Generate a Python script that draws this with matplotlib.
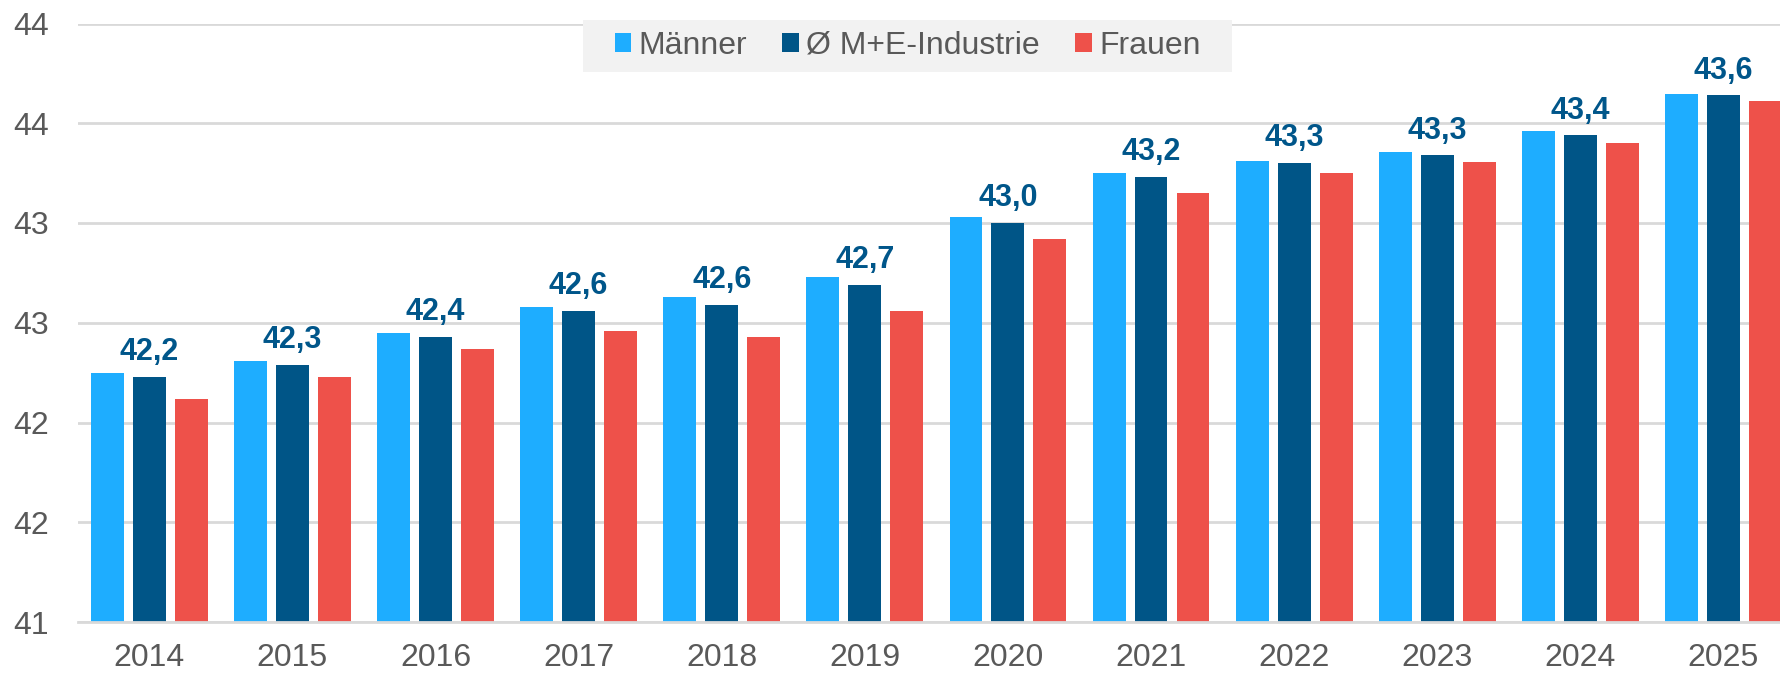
import numpy as np
import matplotlib
matplotlib.use("Agg")
import matplotlib.pyplot as plt
from matplotlib.patches import Patch, Rectangle

years = ["2014", "2015", "2016", "2017", "2018", "2019",
         "2020", "2021", "2022", "2023", "2024", "2025"]
maenner = [42.25, 42.31, 42.45, 42.58, 42.63, 42.73,
           43.03, 43.25, 43.31, 43.355, 43.46, 43.645]
me_industrie = [42.23, 42.29, 42.43, 42.56, 42.59, 42.69,
                43.00, 43.23, 43.30, 43.34, 43.44, 43.64]
frauen = [42.12, 42.23, 42.37, 42.46, 42.43, 42.56,
          42.92, 43.15, 43.25, 43.305, 43.40, 43.61]
series_names = ["Männer", "Ø M+E-Industrie", "Frauen"]
y_ticks = [41.0, 41.5, 42.0, 42.5, 43.0, 43.5, 44.0]
y_labels = ["41", "42", "42", "43", "43", "44", "44"]

colors = ["#1EADFF", "#005587", "#EE514A"]
grey_text = "#595959"
grid_col = "#D9D9D9"

plt.rcParams['font.family'] = ['Liberation Sans', 'DejaVu Sans']

W, H = 1781, 673
fig = plt.figure(figsize=(W / 100, H / 100), dpi=100)
left, right = 77.75, 1795
bottom, top = 622, 23.5
ax = fig.add_axes([left / W, (H - bottom) / H, (right - left) / W, (bottom - top) / H])

x = np.arange(len(years))
width = 0.23
offset = 0.293
for i, vals in enumerate([maenner, me_industrie, frauen]):
    ax.bar(x + (i - 1) * offset, np.array(vals) - 41.0, width, bottom=41.0,
           color=colors[i], zorder=3)

# value labels above the M+E bars
for xi, v in zip(x, me_industrie):
    ax.annotate(f"{v:.1f}".replace(".", ","), (xi, v), xytext=(0, 12),
                textcoords="offset points", ha="center", va="baseline",
                fontsize=22, fontweight="bold", color="#00568A")

ax.set_xlim(-0.5, len(years) - 0.5)
ax.set_ylim(41.0, 44.0)
ax.set_yticks(y_ticks)
ax.set_yticklabels(y_labels)
ax.set_xticks(x)
ax.set_xticklabels(years)
ax.tick_params(axis="both", length=0, labelsize=23, labelcolor=grey_text)
ax.tick_params(axis="y", pad=21)
ax.tick_params(axis="x", pad=15)
ax.yaxis.grid(True, color=grid_col, linewidth=2, zorder=0)
for s in ["top", "right", "left"]:
    ax.spines[s].set_visible(False)
ax.spines["bottom"].set_color(grid_col)
ax.spines["bottom"].set_linewidth(2)
ax.spines["bottom"].set_zorder(4)

# legend with a grey background box
fig.patches.append(Rectangle((583 / W, 1 - 72 / H), (1232 - 583) / W, 52 / H,
                             transform=fig.transFigure, facecolor="#F2F2F2",
                             edgecolor="none", zorder=5))
handles = [Patch(facecolor=c, edgecolor="none") for c in colors]
leg = fig.legend(handles, series_names, ncol=3, loc="center",
                 bbox_to_anchor=(907.5 / W, 1 - 46 / H),
                 frameon=False, fontsize=23,
                 handlelength=0.53, handleheight=0.53, handletextpad=0.22,
                 columnspacing=1.1, borderpad=0.2)
leg.set_zorder(6)
for t in leg.get_texts():
    t.set_color(grey_text)

fig.savefig("out.png", dpi=100)
